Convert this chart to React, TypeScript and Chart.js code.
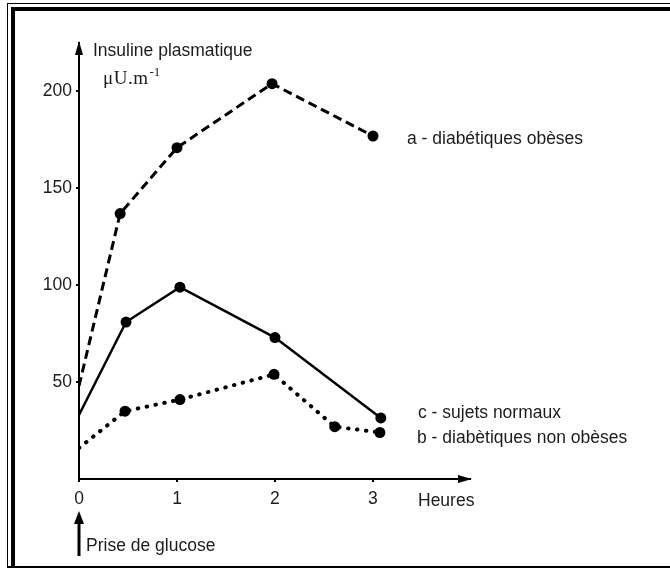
import React, { useEffect, useRef } from "react";
import { Chart, registerables } from "chart.js";

Chart.register(...registerables);

// Hours after glucose intake and plasma insulin (µU/ml)
const hoursA = [0, 0.42, 1.0, 1.97, 3.0];
const insulinA = [48, 137, 171, 204, 177];
const hoursC = [0, 0.48, 1.03, 2.0, 3.08];
const insulinC = [33, 81, 99, 73, 31.5];
const hoursB = [0, 0.47, 1.03, 1.99, 2.61, 3.07];
const insulinB = [16, 35, 41, 54, 27, 24];

const xTicks = [0, 1, 2, 3];
const yTicks = [50, 100, 150, 200];

const labelA = "a - diabétiques obèses";
const labelC = "c - sujets normaux";
const labelB = "b - diabètiques non obèses";
const yTitle = "Insuline plasmatique";
const yUnit = "μU.m";
const yUnitSup = "-1";
const xTitle = "Heures";
const glucoseLabel = "Prise de glucose";

const SANS = '"Liberation Sans", Arial, Helvetica, sans-serif';
const SERIF = '"Liberation Serif", "Times New Roman", serif';
const TEXT = "#1c1c1c";

const toPts = (xs: number[], ys: number[]) => xs.map((x, i) => ({ x, y: ys[i] }));
const radii = (n: number) => Array.from({ length: n }, (_, i) => (i === 0 ? 0 : 5.5));

const decor = {
  id: "decor",
  afterDraw(chart: any) {
    const ctx = chart.ctx as CanvasRenderingContext2D;
    const { left, top, bottom, right } = chart.chartArea;
    ctx.save();
    ctx.fillStyle = "#000";
    // y axis arrow
    ctx.beginPath();
    ctx.moveTo(left, top - 2);
    ctx.lineTo(left - 4, top + 12);
    ctx.lineTo(left + 4, top + 12);
    ctx.closePath();
    ctx.fill();
    // x axis arrow
    ctx.beginPath();
    ctx.moveTo(right + 2, bottom);
    ctx.lineTo(right - 12, bottom - 4);
    ctx.lineTo(right - 12, bottom + 4);
    ctx.closePath();
    ctx.fill();
    // glucose arrow
    ctx.fillRect(left - 1.5, 522, 3, 34);
    ctx.beginPath();
    ctx.moveTo(left, 511);
    ctx.lineTo(left - 5, 524);
    ctx.lineTo(left + 5, 524);
    ctx.closePath();
    ctx.fill();

    ctx.fillStyle = TEXT;
    ctx.textBaseline = "alphabetic";
    ctx.textAlign = "left";
    ctx.font = `17.5px ${SANS}`;
    ctx.fillText(yTitle, 93, 56);
    ctx.fillText(labelA, 407, 144);
    ctx.fillText(labelC, 418, 418);
    ctx.fillText(labelB, 417, 443);
    ctx.fillText(xTitle, 418, 506);
    ctx.fillText(glucoseLabel, 86, 551);

    ctx.font = `19px ${SERIF}`;
    (ctx as any).letterSpacing = "0.5px";
    ctx.fillText(yUnit, 103, 84);
    const w = ctx.measureText(yUnit).width;
    (ctx as any).letterSpacing = "0px";
    ctx.font = `13px ${SERIF}`;
    ctx.fillText(yUnitSup, 103 + w + 1, 76);
    ctx.restore();
  },
};

export default function App() {
  const ref = useRef<HTMLCanvasElement | null>(null);

  useEffect(() => {
    if (!ref.current) return;
    const chart = new Chart(ref.current, {
      type: "line",
      data: {
        datasets: [
          {
            label: labelA,
            data: toPts(hoursA, insulinA),
            borderColor: "#000",
            backgroundColor: "#000",
            borderWidth: 3,
            borderDash: [9, 5],
            pointRadius: radii(hoursA.length),
            pointBorderWidth: 0,
            tension: 0,
          },
          {
            label: labelC,
            data: toPts(hoursC, insulinC),
            borderColor: "#000",
            backgroundColor: "#000",
            borderWidth: 2.5,
            pointRadius: radii(hoursC.length),
            pointBorderWidth: 0,
            tension: 0,
          },
          {
            label: labelB,
            data: toPts(hoursB, insulinB),
            borderColor: "#000",
            backgroundColor: "#000",
            borderWidth: 4,
            borderDash: [0.5, 8.5],
            borderCapStyle: "round",
            pointRadius: radii(hoursB.length),
            pointBorderWidth: 0,
            tension: 0,
          },
        ],
      },
      options: {
        animation: false,
        responsive: false,
        events: [],
        layout: { padding: { left: 0, top: 43, right: 200, bottom: 0 } },
        plugins: { legend: { display: false }, tooltip: { enabled: false } },
        scales: {
          x: {
            type: "linear",
            min: 0,
            max: 3.99,
            afterFit: (s: any) => {
              s.height = 89;
            },
            afterBuildTicks: (s: any) => {
              s.ticks = xTicks.map((v) => ({ value: v }));
            },
            grid: {
              drawOnChartArea: false,
              drawTicks: true,
              tickLength: 3,
              color: "#000",
              lineWidth: 2,
            },
            border: { display: true, color: "#000", width: 2 },
            ticks: {
              color: TEXT,
              font: { family: SANS, size: 17.5 },
              padding: 7,
              maxRotation: 0,
              autoSkip: false,
            },
          },
          y: {
            type: "linear",
            min: 0,
            max: 225,
            afterFit: (s: any) => {
              s.width = 79;
            },
            afterBuildTicks: (s: any) => {
              s.ticks = yTicks.map((v) => ({ value: v }));
            },
            grid: {
              drawOnChartArea: false,
              drawTicks: true,
              tickLength: 3,
              color: "#000",
              lineWidth: 2,
            },
            border: { display: true, color: "#000", width: 2 },
            ticks: {
              color: TEXT,
              font: { family: SANS, size: 17.5 },
              padding: 4,
              autoSkip: false,
            },
          },
        },
      },
      plugins: [decor],
    });
    return () => chart.destroy();
  }, []);

  return (
    <div
      style={{
        position: "fixed",
        left: 0,
        top: 0,
        width: 670,
        height: 568,
        background: "#fff",
        overflow: "hidden",
      }}
    >
      <div
        style={{
          position: "absolute",
          left: 7,
          top: 3,
          width: 700,
          height: 562,
          borderLeft: "1px solid #000",
          borderTop: "1px solid #000",
          borderBottom: "2px solid #000",
        }}
      />
      <div
        style={{
          position: "absolute",
          left: 11,
          top: 7,
          width: 700,
          height: 600,
          borderLeft: "4px solid #000",
          borderTop: "4px solid #000",
        }}
      />
      <canvas
        ref={ref}
        width={670}
        height={568}
        style={{ position: "absolute", left: 0, top: 0 }}
      />
    </div>
  );
}
